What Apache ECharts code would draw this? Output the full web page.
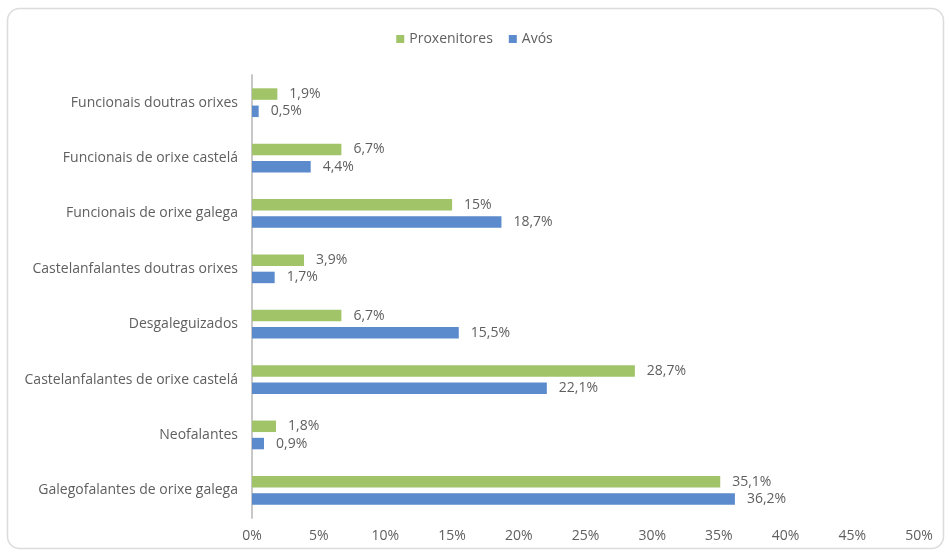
<!DOCTYPE html>
<html>
<head>
<meta charset="utf-8">
<script src="https://cdn.jsdelivr.net/npm/echarts@6/dist/echarts.min.js"></script>
<style>
html,body{margin:0;padding:0;background:#fff;}
#main{width:949px;height:554px;}
</style>
</head>
<body>
<div id="main"></div>
<script>
var categories = [
  "Galegofalantes de orixe galega",
  "Neofalantes",
  "Castelanfalantes de orixe castelá",
  "Desgaleguizados",
  "Castelanfalantes doutras orixes",
  "Funcionais de orixe galega",
  "Funcionais de orixe castelá",
  "Funcionais doutras orixes"
];
var proxenitores = [35.1, 1.8, 28.7, 6.7, 3.9, 15, 6.7, 1.9];
var avos = [36.2, 0.9, 22.1, 15.5, 1.7, 18.7, 4.4, 0.5];
var seriesNames = ["Proxenitores", "Avós"];

var fontFam = "'Open Sans', sans-serif";
function fmt(v){ return String(v).replace('.', ',') + '%'; }

var chart = echarts.init(document.getElementById('main'));
chart.setOption({
  animation: false,
  backgroundColor: '#fff',
  textStyle: {fontFamily: fontFam},
  graphic: [{
    type: 'rect',
    shape: {x: 7.5, y: 8.5, width: 936, height: 540, r: 12},
    style: {fill: 'none', stroke: '#dcdcdc', lineWidth: 1.5},
    silent: true
  }],
  legend: {
    top: 27,
    left: 'center',
    itemWidth: 8,
    itemHeight: 8,
    itemGap: 16,
    itemTextGap: 5,
    icon: 'rect',
    textStyle: {fontSize: 14, color: '#5f5f5f', fontFamily: fontFam},
    data: seriesNames
  },
  grid: {left: 252, right: 30, top: 75, bottom: 36, containLabel: false},
  xAxis: {
    type: 'value',
    min: 0, max: 50, interval: 5,
    axisLine: {show: false},
    axisTick: {show: false},
    splitLine: {show: false},
    axisLabel: {formatter: '{value}%', fontSize: 14, color: '#5f5f5f', margin: 11, fontFamily: fontFam}
  },
  yAxis: {
    type: 'category',
    data: categories,
    axisLine: {show: true, lineStyle: {color: '#c8c8c8', width: 2}},
    axisTick: {show: false},
    axisLabel: {fontSize: 14, color: '#5f5f5f', margin: 14, fontFamily: fontFam}
  },
  series: [
    {
      name: seriesNames[0], type: 'bar', data: proxenitores,
      barWidth: 11.5, barGap: '50%',
      itemStyle: {color: '#a0c467'},
      label: {show: true, position: 'right', distance: 12, fontSize: 14, color: '#5f5f5f', formatter: function(p){return fmt(p.value);}}
    },
    {
      name: seriesNames[1], type: 'bar', data: avos,
      barWidth: 11.5, barGap: '50%',
      itemStyle: {color: '#5b8acd'},
      label: {show: true, position: 'right', distance: 12, fontSize: 14, color: '#5f5f5f', formatter: function(p){return fmt(p.value);}}
    }
  ]
});
</script>
</body>
</html>
